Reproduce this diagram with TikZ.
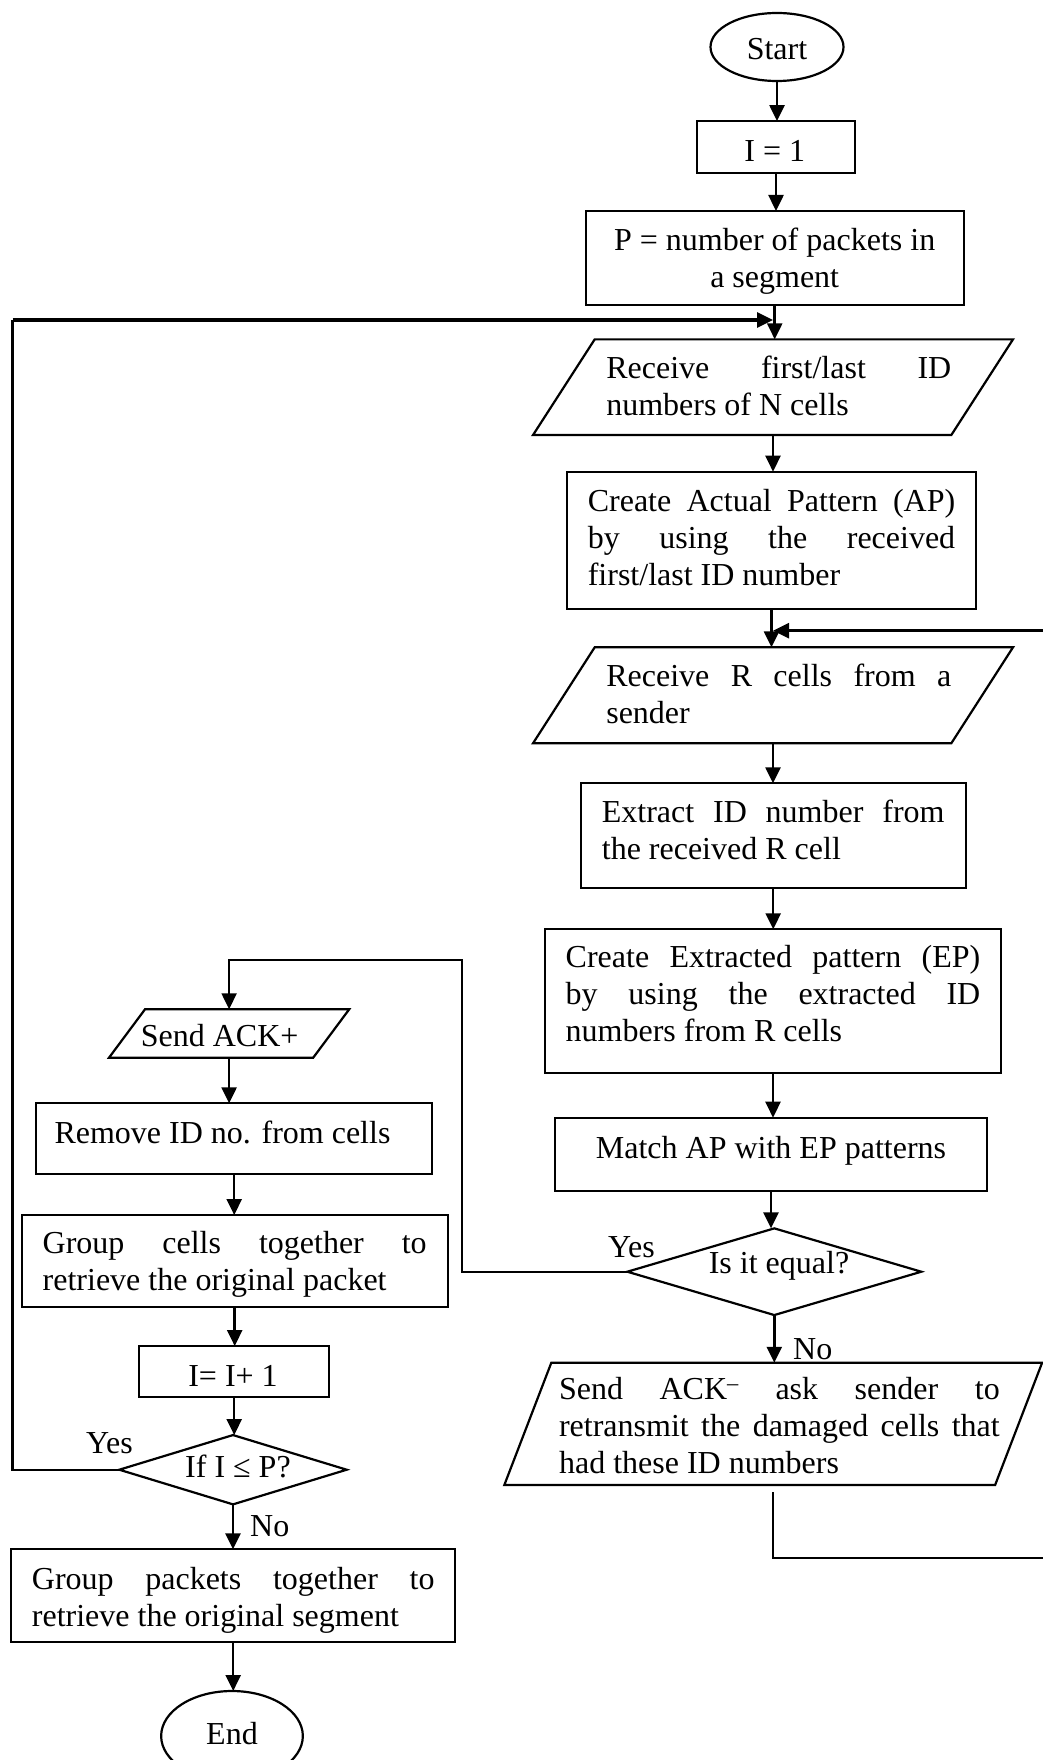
\documentclass[tikz,border=0pt]{standalone}
\usepackage{fontspec}
\setmainfont{Liberation Serif}
\usetikzlibrary{arrows.meta,shapes.geometric}

% single centred line: #1 = twice the horizontal shift, #2 = raise of baseline, #3 = text
\newcommand\tc[3]{\smash{\raisebox{#2pt}{\makebox[0pt]{\hspace*{#1pt}#3}}}}
% paragraph: #1 = twice the horizontal shift, #2 = raise of last baseline, #3 = width, #4 = lines
\newcommand\tp[4]{\smash{\raisebox{#2pt}{\makebox[0pt]{\hspace*{#1pt}\parbox[b]{#3pt}{#4}}}}}
% fully justified line of a given width
\newcommand\jl[2]{\makebox[#1pt][s]{#2}}
% parallelogram outline around a node: #1 = node, #2 = half of the slant
\newcommand\slantoutline[2]{%
  \draw[outline] ([xshift=#2pt]#1.north west) -- ([xshift=#2pt]#1.north east)
    -- ([xshift=-#2pt]#1.south east) -- ([xshift=-#2pt]#1.south west) -- cycle;}
% diamond outline through the side midpoints of a node
\newcommand\diamondoutline[1]{%
  \draw[outline] (#1.north) -- (#1.east) -- (#1.south) -- (#1.west) -- cycle;}

\tikzset{
  base/.style={inner sep=0pt, outer sep=0pt, line width=2.2pt},
  procbox/.style={base, draw, rectangle},
  iobox/.style={base, rectangle},
  decbox/.style={base, rectangle},
  termbox/.style={base, draw, ellipse},
  outline/.style={line width=2.2pt, line join=miter},
  flow/.style={line width=2.5pt, -{Triangle[length=16pt,width=15pt]}},
  link/.style={line width=2.3pt},
  tag/.style={inner sep=0pt, anchor=base west},
}

\begin{document}
\begin{tikzpicture}[x=1pt, y=-1pt, font=\fontsize{32}{37}\selectfont]
\useasboundingbox (0,0) rectangle (1043,1760);
\fill[white] (0,0) rectangle (1043,1760);
\clip (0,0) rectangle (1043,1760);

% ---------- right column ----------
\node[termbox, minimum width=133pt, minimum height=68pt] (start) at (777,47) {\tc{0}{-13}{Start}};
\node[procbox, minimum width=158.6pt, minimum height=52.3pt] (i1) at (776,147.2) {\tc{-2.4}{-14.5}{I = 1}};
\node[procbox, minimum width=378pt, minimum height=94pt] (pbox) at (774.7,258)
  {\tp{0}{-29.3}{340}{\centering P = number of packets in\\ a segment}};
\node[iobox, minimum width=418.3pt, minimum height=95.7pt] (recv1) at (773,387.2)
  {\tp{11.6}{-27.8}{345}{\jl{345}{Receive first/last ID}\\ numbers of N cells}};
\slantoutline{recv1}{30.85}
\node[procbox, minimum width=408.4pt, minimum height=137.6pt] (ap) at (771.5,540.5)
  {\tp{0}{-44.5}{367.4}{\jl{367.4}{Create Actual Pattern (AP)}\\ \jl{367.4}{by using the received}\\ first/last ID number}};
\node[iobox, minimum width=418.3pt, minimum height=96pt] (recv2) at (773,695.3)
  {\tp{11.6}{-28}{345}{\jl{345}{Receive R cells from a}\\ sender}};
\slantoutline{recv2}{30.85}
\node[procbox, minimum width=385pt, minimum height=104.4pt] (extract) at (773.2,835.5)
  {\tp{0}{-23.8}{342.7}{\jl{342.7}{Extract ID number from}\\ the received R cell}};
\node[procbox, minimum width=456.6pt, minimum height=144pt] (ep) at (773,1001.3)
  {\tp{0}{-40.4}{414.6}{\jl{414.6}{Create Extracted pattern (EP)}\\ \jl{414.6}{by using the extracted ID}\\ numbers from R cells}};
\node[procbox, minimum width=432.6pt, minimum height=73pt] (match) at (771,1154.2)
  {\tc{0}{-4.1}{Match AP with EP patterns}};
\node[decbox, minimum width=294pt, minimum height=86.7pt] (equal) at (774.3,1271.7)
  {\tc{9.4}{-1.6}{Is it equal?}};
\diamondoutline{equal}
\node[iobox, minimum width=490.8pt, minimum height=122.3pt] (ackm) at (773.2,1423.9)
  {\tp{12.4}{-49.4}{440.7}{\jl{440.7}{Send ACK\textsuperscript{--} ask sender to}\\ \jl{440.7}{retransmit the damaged cells that}\\ had these ID numbers}};
\slantoutline{ackm}{23.5}

% ---------- left column ----------
\node[iobox, minimum width=204.2pt, minimum height=48.4pt] (ackp) at (229.1,1033.5)
  {\tc{-18.8}{-13.2}{Send ACK+}};
\slantoutline{ackp}{18}
\node[procbox, minimum width=396.3pt, minimum height=71pt] (remove) at (234.2,1138.8)
  {\tc{-23.4}{-4.2}{Remove ID no. from cells}};
\node[procbox, minimum width=426pt, minimum height=92.3pt] (grpc) at (234.7,1261.2)
  {\tp{0}{-29.5}{384}{\jl{384}{Group cells together to}\\ retrieve the original packet}};
\node[procbox, minimum width=190.3pt, minimum height=51.3pt] (inc) at (234.2,1371.7)
  {\tc{-2.4}{-15}{I= I+ 1}};
\node[decbox, minimum width=227.4pt, minimum height=69.3pt] (ifp) at (233,1469.7)
  {\tc{10}{-7.6}{If I ≤ P?}};
\diamondoutline{ifp}
\node[procbox, minimum width=444.3pt, minimum height=92.4pt] (grpp) at (233.2,1595.5)
  {\tp{0}{-30.5}{402.6}{\jl{402.6}{Group packets together to}\\ retrieve the original segment}};
\node[termbox, minimum width=141.7pt, minimum height=90pt] (end) at (232,1736)
  {\tc{0}{-8}{End}};

% ---------- main flow ----------
\draw[flow] (start.south) -- (start.south |- i1.north);
\draw[flow] (i1.south) -- (i1.south |- pbox.north);
\draw[flow] (pbox.south) -- (pbox.south |- recv1.north);
\draw[flow] (recv1.south) -- (recv1.south |- ap.north);
\draw[flow] (ap.south) -- (ap.south |- recv2.north);
\draw[flow] (recv2.south) -- (recv2.south |- extract.north);
\draw[flow] (extract.south) -- (extract.south |- ep.north);
\draw[flow] (ep.south) -- (ep.south |- match.north);
\draw[flow] (match.south) -- (match.south |- equal.north);
\draw[flow] (equal.south) -- (equal.south |- ackm.north);

\draw[flow] (ackp.south) -- (ackp.south |- remove.north);
\draw[flow] (remove.south) -- (remove.south |- grpc.north);
\draw[flow] (grpc.south) -- (grpc.south |- inc.north);
\draw[flow] (inc.south) -- (inc.south |- ifp.north);
\draw[flow] (ifp.south) -- (ifp.south |- grpp.north);
\draw[flow] (grpp.south) -- (grpp.south |- end.north);

% ---------- equal: yes branch ----------
\coordinate (yesT) at (462,960);
\draw[flow, line width=2.1pt] (equal.west) -| (yesT) -| (ackp.north);

% ---------- not equal: back to receiving cells ----------
\coordinate (dnR) at (1060,1557.7);
\coordinate (upR) at (1060,630.7);
\draw[link] ([yshift=-7pt]ackm.south) |- (dnR) -- (upR);
\draw[flow, line width=2.8pt] (upR) -- (upR -| recv2.north);

% ---------- next packet loop ----------
\coordinate (upL) at (12.5,320);
\draw[link] (ifp.west) -| (upL);
\draw[flow, line width=3.1pt] (upL) -- (upL -| recv1.north);

% ---------- branch labels ----------
\node[tag] (yes1) at (608,1257) {Yes};
\node[tag] (no1) at (793,1359) {No};
\node[tag] (yes2) at (86,1453) {Yes};
\node[tag] (no2) at (250,1536.7) {No};
\end{tikzpicture}
\end{document}
